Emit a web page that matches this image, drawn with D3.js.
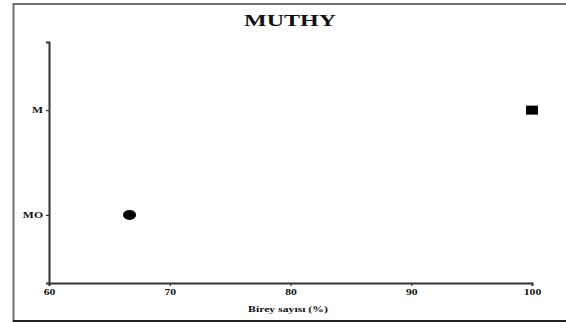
<!DOCTYPE html>
<html>
<head>
<meta charset="utf-8">
<script src="https://cdn.jsdelivr.net/npm/d3@7"></script>
<style>
  html, body { margin: 0; padding: 0; background: #fff; }
  svg { display: block; }
  text { font-family: "Liberation Serif", "Times New Roman", serif; font-weight: bold; fill: #111; }
</style>
</head>
<body>
<div id="chart"></div>
<script>
// Chart data
const categories = ["M", "MO"];
const values = [100, 66.67];
const markers = ["square", "circle"];
const xTicks = [60, 70, 80, 90, 100];
const title = "MUTHY";
const xLabel = "Birey sayısı (%)";

const W = 566, H = 322;
const WIDEN = 1.3; // horizontal stretch applied to all lettering
const svg = d3.select("#chart").append("svg").attr("width", W).attr("height", H);

// Widen text horizontally while keeping it real text
function widen(sel, f) {
  sel.each(function () {
    const len = this.getComputedTextLength();
    d3.select(this).attr("textLength", len * f).attr("lengthAdjust", "spacingAndGlyphs");
  });
}

// Outer frame
svg.append("rect")
  .attr("x", 13.5).attr("y", 4).attr("width", 570).attr("height", 317)
  .attr("fill", "none").attr("stroke", "#6e6e6e").attr("stroke-width", 2);
svg.append("line")
  .attr("x1", 13).attr("x2", W).attr("y1", 321).attr("y2", 321)
  .attr("stroke", "#222").attr("stroke-width", 2);

const plot = { left: 49, right: 532, top: 42, bottom: 283 };

const x = d3.scaleLinear().domain([60, 100]).range([plot.left, plot.right]);
const y = d3.scalePoint().domain(categories).range([plot.top, plot.bottom]).padding(0.65);

// Axes
const xAxis = svg.append("g").attr("transform", `translate(0,${plot.bottom})`)
  .call(d3.axisBottom(x).tickValues(xTicks).tickSize(3).tickPadding(3).tickFormat(d3.format("d")));
const yAxis = svg.append("g").attr("transform", `translate(${plot.left},0)`)
  .call(d3.axisLeft(y).tickSize(3).tickPadding(3));

[xAxis, yAxis].forEach(g => {
  g.select(".domain").attr("stroke", "#333").attr("stroke-width", 2);
  g.selectAll(".tick line").attr("stroke", "#333").attr("stroke-width", 1.2);
  g.selectAll(".tick text")
    .attr("font-family", "Liberation Serif, serif")
    .attr("font-weight", "bold").attr("font-size", 9).attr("fill", "#111")
    .call(widen, WIDEN);
});

// Points
const pts = categories.map((c, i) => ({ c, v: values[i], m: markers[i] }));
svg.selectAll(".sq").data(pts.filter(d => d.m === "square")).enter().append("rect")
  .attr("x", d => x(d.v) - 6).attr("y", d => y(d.c) - 4.5)
  .attr("width", 12).attr("height", 9).attr("fill", "#000");
svg.selectAll(".ci").data(pts.filter(d => d.m === "circle")).enter().append("ellipse")
  .attr("cx", d => x(d.v)).attr("cy", d => y(d.c))
  .attr("rx", 6.5).attr("ry", 5).attr("fill", "#000");

// Title and axis label
svg.append("text").attr("x", 290).attr("y", 26).attr("text-anchor", "middle")
  .attr("font-size", 16).text(title).call(widen, 1.5);
svg.append("text").attr("x", 288).attr("y", 311.5).attr("text-anchor", "middle")
  .attr("font-size", 9).text(xLabel).call(widen, WIDEN);
</script>
</body>
</html>
